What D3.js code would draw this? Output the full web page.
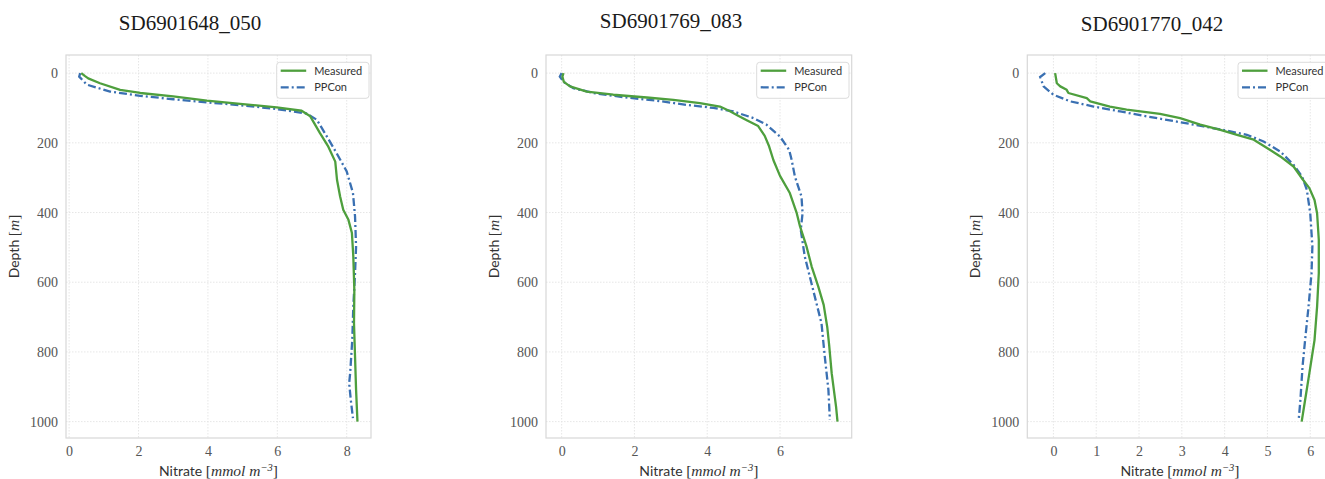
<!DOCTYPE html>
<html>
<head>
<meta charset="utf-8">
<script src="https://cdn.jsdelivr.net/npm/d3@7"></script>
<style>
  html, body { margin: 0; padding: 0; background: #fff; }
  svg { display: block; }
</style>
</head>
<body>
<svg id="chart" width="1325" height="479"></svg>
<script>
// ---------- data: [nitrate, depth] ----------
const titles = ["SD6901648_050", "SD6901769_083", "SD6901770_042"];
const seriesNames = ["Measured", "PPCon"];
const depthTicks = [0, 200, 400, 600, 800, 1000];
const nitrateTicks1 = [0, 2, 4, 6, 8];
const nitrateTicks2 = [0, 2, 4, 6];
const nitrateTicks3 = [0, 1, 2, 3, 4, 5, 6];

const p1Measured = [[0.35,0],[0.45,8],[0.55,15],[0.89,29],[1.47,48],[2.05,57],[3.0,67],[3.97,79],[4.93,88],[5.98,98],[6.7,108],[6.95,124],[7.23,172],[7.47,211],[7.67,254],[7.72,306],[7.81,354],[7.9,392],[8.05,421],[8.15,459],[8.19,526],[8.22,622],[8.21,718],[8.24,813],[8.27,909],[8.31,1000]];
const p1PPCon = [[0.32,0],[0.29,10],[0.51,33],[1.18,53],[2.05,65],[3.0,75],[3.97,84],[4.93,92],[5.98,103],[6.85,116],[7.14,134],[7.43,182],[7.71,230],[8.0,282],[8.18,344],[8.24,411],[8.27,498],[8.24,574],[8.19,670],[8.16,766],[8.1,860],[8.07,890],[8.12,940],[8.18,990]];

const p2Measured = [[0.05,0],[0.02,10],[0.06,25],[0.23,38],[0.69,53],[1.42,62],[2.34,70],[3.07,77],[3.8,86],[4.35,96],[4.6,108],[4.85,122],[5.1,136],[5.4,152],[5.58,180],[5.7,210],[5.82,250],[6.0,295],[6.27,344],[6.46,402],[6.55,440],[6.73,498],[6.87,555],[7.05,612],[7.2,665],[7.3,730],[7.35,780],[7.42,861],[7.54,957],[7.58,1000]];
const p2PPCon = [[0.0,0],[-0.05,10],[0.05,25],[0.32,43],[0.87,57],[1.69,69],[2.61,79],[3.43,91],[4.17,100],[4.72,110],[5.27,129],[5.63,148],[6.0,182],[6.25,220],[6.32,249],[6.41,297],[6.59,354],[6.62,402],[6.57,450],[6.68,526],[6.91,622],[7.14,718],[7.23,813],[7.33,909],[7.37,995]];

const p3Measured = [[0.04,0],[0.08,29],[0.16,38],[0.31,48],[0.35,57],[0.78,72],[0.86,81],[1.32,96],[1.71,105],[2.49,117],[2.96,129],[3.43,148],[3.9,163],[4.29,177],[4.68,191],[4.99,215],[5.3,239],[5.61,268],[5.83,306],[5.98,330],[6.1,364],[6.16,402],[6.2,478],[6.2,574],[6.16,670],[6.1,766],[6.04,813],[5.98,861],[5.88,938],[5.8,1000]];
const p3PPCon = [[-0.19,0],[-0.31,11],[-0.23,38],[0.0,62],[0.39,81],[0.94,96],[1.56,110],[2.18,124],[2.88,139],[3.51,153],[4.05,165],[4.52,177],[4.91,196],[5.3,225],[5.61,263],[5.81,297],[5.92,335],[6.0,402],[6.05,497],[6.03,574],[5.96,670],[5.88,766],[5.82,842],[5.77,938],[5.73,995]];

// ---------- layout ----------
const panels = [
  { title: titles[0], titleX: 190, titleY: 30, left: 66, right: 371, xDomain: [-0.09, 8.70], xTicks: nitrateTicks1, measured: p1Measured, ppcon: p1PPCon },
  { title: titles[1], titleX: 671, titleY: 28, left: 546, right: 851.7, xDomain: [-0.43, 7.97], xTicks: nitrateTicks2, measured: p2Measured, ppcon: p2PPCon },
  { title: titles[2], titleX: 1152, titleY: 31, left: 1027.3, right: 1332.5, xDomain: [-0.61, 6.52], xTicks: nitrateTicks3, measured: p3Measured, ppcon: p3PPCon }
];
const plotTop = 55, plotBottom = 438;
const colors = { Measured: "#4e9f3d", PPCon: "#3a70b2" };
const dashPPCon = "8,3,2,3";
const lineW = 2.3;

const svg = d3.select("#chart");
const y = d3.scaleLinear().domain([-52, 1047]).range([plotTop, plotBottom]);

panels.forEach(p => {
  const x = d3.scaleLinear().domain(p.xDomain).range([p.left, p.right]);
  const g = svg.append("g");

  svg.append("text")
    .attr("x", p.titleX).attr("y", p.titleY)
    .attr("text-anchor", "middle")
    .attr("font-family", "Liberation Serif, serif")
    .attr("font-size", 21)
    .attr("fill", "#1a1a1a")
    .text(p.title);

  const clipId = "clip" + Math.round(p.left);
  svg.append("clipPath").attr("id", clipId)
    .append("rect").attr("x", p.left).attr("y", plotTop).attr("width", p.right - p.left).attr("height", plotBottom - plotTop);

  g.selectAll(".gx").data(p.xTicks).join("line")
    .attr("x1", d => x(d)).attr("x2", d => x(d))
    .attr("y1", plotTop).attr("y2", plotBottom)
    .attr("stroke", "#e3e3e3").attr("stroke-width", 0.9).attr("stroke-dasharray", "1.5,1.5");
  g.selectAll(".gy").data(depthTicks).join("line")
    .attr("x1", p.left).attr("x2", p.right)
    .attr("y1", d => y(d)).attr("y2", d => y(d))
    .attr("stroke", "#e3e3e3").attr("stroke-width", 0.9).attr("stroke-dasharray", "1.5,1.5");

  g.append("rect")
    .attr("x", p.left).attr("y", plotTop)
    .attr("width", p.right - p.left).attr("height", plotBottom - plotTop)
    .attr("fill", "none").attr("stroke", "#d8d8d8").attr("stroke-width", 1.2);

  const xAxis = d3.axisBottom(x).tickValues(p.xTicks).tickSize(0).tickPadding(8).tickFormat(d3.format("d"));
  const yAxis = d3.axisLeft(y).tickValues(depthTicks).tickSize(0).tickPadding(8).tickFormat(d3.format("d"));
  const ax = svg.append("g").attr("transform", `translate(0,${plotBottom})`).call(xAxis);
  const ay = svg.append("g").attr("transform", `translate(${p.left},0)`).call(yAxis);
  [ax, ay].forEach(a => {
    a.select(".domain").remove();
    a.selectAll("text")
      .attr("font-family", "Liberation Serif, serif")
      .attr("font-size", 14)
      .attr("fill", "#555");
  });

  const line = d3.line().x(d => x(d[0])).y(d => y(d[1]));
  const lg = svg.append("g").attr("clip-path", `url(#${clipId})`);
  lg.append("path").datum(p.ppcon)
    .attr("d", line).attr("fill", "none")
    .attr("stroke", colors.PPCon).attr("stroke-width", lineW)
    .attr("stroke-dasharray", dashPPCon);
  lg.append("path").datum(p.measured)
    .attr("d", line).attr("fill", "none")
    .attr("stroke", colors.Measured).attr("stroke-width", lineW)
    .attr("stroke-linejoin", "round");

  const xl = svg.append("text")
    .attr("x", (p.left + p.right) / 2).attr("y", 475.5)
    .attr("text-anchor", "middle")
    .attr("fill", "#333").attr("font-size", 14);
  xl.append("tspan").attr("font-family", "Lato, sans-serif").text("Nitrate ");
  xl.append("tspan").attr("font-family", "Liberation Serif, serif").attr("font-size", 15.5).text("[");
  xl.append("tspan").attr("font-family", "Liberation Serif, serif").attr("font-style", "italic").attr("font-size", 15.5).text("mmol m");
  xl.append("tspan").attr("font-family", "Liberation Serif, serif").attr("font-style", "italic").attr("font-size", 10.5).attr("dy", -5).text("−3");
  xl.append("tspan").attr("font-family", "Liberation Serif, serif").attr("font-size", 15.5).attr("dy", 5).text("]");

  const yl = svg.append("text")
    .attr("transform", `translate(${p.left - 47},${(plotTop + plotBottom) / 2}) rotate(-90)`)
    .attr("text-anchor", "middle")
    .attr("fill", "#333").attr("font-size", 14);
  yl.append("tspan").attr("font-family", "Lato, sans-serif").text("Depth ");
  yl.append("tspan").attr("font-family", "Liberation Serif, serif").attr("font-size", 15.5).text("[");
  yl.append("tspan").attr("font-family", "Liberation Serif, serif").attr("font-style", "italic").attr("font-size", 15.5).text("m");
  yl.append("tspan").attr("font-family", "Liberation Serif, serif").attr("font-size", 15.5).text("]");

  const lgX = p.left + 210.7, lgY = 62.3;
  const leg = svg.append("g");
  leg.append("rect")
    .attr("x", lgX).attr("y", lgY).attr("width", 92.3).attr("height", 36)
    .attr("rx", 3).attr("fill", "#fff").attr("fill-opacity", 0.85)
    .attr("stroke", "#dcdcdc").attr("stroke-width", 1);
  seriesNames.forEach((name, i) => {
    const ly = lgY + 8.4 + i * 16.6;
    leg.append("line")
      .attr("x1", lgX + 4).attr("x2", lgX + 29.5)
      .attr("y1", ly).attr("y2", ly)
      .attr("stroke", colors[name]).attr("stroke-width", lineW)
      .attr("stroke-dasharray", name === "PPCon" ? dashPPCon : null);
    leg.append("text")
      .attr("x", lgX + 37.5).attr("y", ly + 4)
      .attr("font-family", "Lato, sans-serif").attr("font-size", 11)
      .attr("fill", "#333").text(name);
  });
});
</script>
</body>
</html>
